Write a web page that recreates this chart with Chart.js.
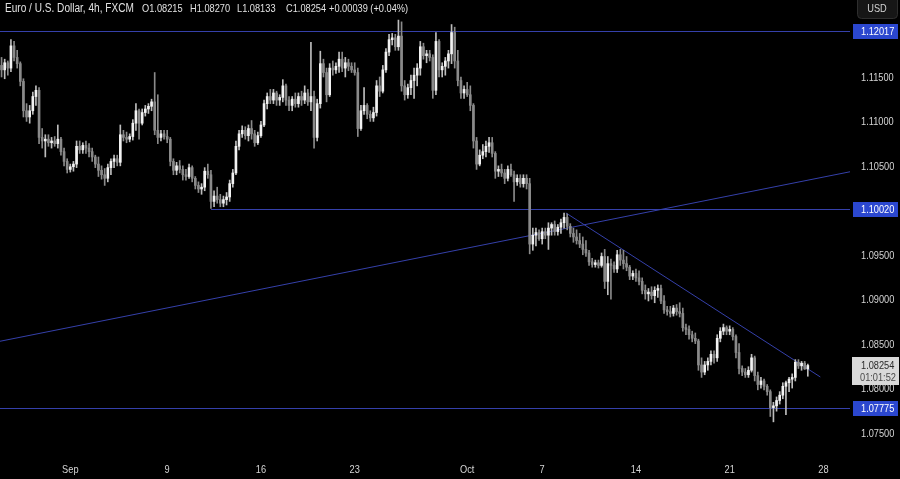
<!DOCTYPE html>
<html>
<head>
<meta charset="utf-8">
<script src="https://cdn.jsdelivr.net/npm/chart.js@4.4.1/dist/chart.umd.min.js"></script>
<style>html,body{margin:0;padding:0;background:#000;overflow:hidden}canvas{display:block}</style>
</head>
<body>
<canvas id="c" width="900" height="479"></canvas>
<script>
// ---- DATA (EUR/USD 4h, FXCM) ----
const opens = [
1.1163,1.1158,1.1166,1.1160,1.1185,1.1172,1.1165,1.1145,1.1112,1.1105,
1.1112,1.1128,1.1135,1.1082,1.1078,1.1080,1.1076,1.1078,1.1075,1.1080,
1.1066,1.1055,1.1046,1.1049,1.1052,1.1072,1.1068,1.1073,1.1070,1.1066,
1.1060,1.1052,1.1045,1.1040,1.1036,1.1048,1.1055,1.1058,1.1054,1.1085,
1.1082,1.1080,1.1083,1.1098,1.1112,1.1098,1.1110,1.1114,1.1117,1.1122,
1.1090,1.1082,1.1086,1.1083,1.1080,1.1055,1.1045,1.1050,1.1046,1.1040,
1.1038,1.1048,1.1036,1.1028,1.1024,1.1026,1.1044,1.1040,1.1010,1.1016,
1.1012,1.1008,1.1012,1.1015,1.1030,1.1042,1.1072,1.1086,1.1090,1.1084,
1.1092,1.1086,1.1076,1.1084,1.1096,1.1120,1.1128,1.1124,1.1132,1.1124,
1.1127,1.1140,1.1124,1.1118,1.1125,1.1120,1.1128,1.1124,1.1132,1.1122,
1.1128,1.1082,1.1120,1.1165,1.1155,1.1130,1.1160,1.1158,1.1162,1.1170,
1.1160,1.1166,1.1162,1.1158,1.1155,1.1092,1.1112,1.1118,1.1108,1.1104,
1.1110,1.1140,1.1134,1.1158,1.1178,1.1192,1.1194,1.1184,1.1196,1.1140,
1.1130,1.1138,1.1146,1.1152,1.1160,1.1184,1.1174,1.1176,1.1172,1.1135,
1.1190,1.1158,1.1162,1.1168,1.1176,1.1200,1.1168,1.1146,1.1132,1.1136,
1.1130,1.1118,1.1078,1.1052,1.1062,1.1066,1.1072,1.1076,1.1064,1.1044,
1.1046,1.1042,1.1036,1.1046,1.1040,1.1032,1.1036,1.1030,1.1036,1.1030,
1.0962,1.0972,1.0975,1.0968,1.0976,1.0972,1.0980,1.0984,1.0976,1.0981,
1.0986,1.0992,1.0982,1.0974,1.0970,1.0966,1.0962,1.0956,1.0952,1.0942,
1.0939,1.0941,1.0938,1.0948,1.0920,1.0940,1.0938,1.0934,1.0950,1.0944,
1.0940,1.0936,1.0926,1.0929,1.0924,1.0920,1.0910,1.0906,1.0908,1.0904,
1.0910,1.0912,1.0898,1.0888,1.0886,1.0884,1.0890,1.0886,1.0884,1.0868,
1.0866,1.0860,1.0856,1.0853,1.0826,1.0818,1.0826,1.0830,1.0838,1.0834,
1.0856,1.0864,1.0868,1.0864,1.0866,1.0858,1.0840,1.0822,1.0818,1.0815,
1.0820,1.0834,1.0814,1.0804,1.0808,1.0802,1.0796,1.0778,1.0780,1.0786,
1.0792,1.0802,1.0806,1.0810,1.0812,1.0829,1.0825,1.0828,1.08215];
const highs = [
1.1172,1.1170,1.1168,1.1192,1.1190,1.1180,1.1167,1.1148,1.1120,1.1118,
1.1133,1.1140,1.1138,1.1092,1.1085,1.1085,1.1082,1.1083,1.1096,1.1082,
1.1070,1.1058,1.1052,1.1055,1.1078,1.1078,1.1076,1.1078,1.1075,1.1070,
1.1062,1.1060,1.1050,1.1047,1.1052,1.1058,1.1062,1.1062,1.1096,1.1090,
1.1088,1.1086,1.1102,1.1120,1.1114,1.1114,1.1118,1.1120,1.1125,1.1155,
1.1130,1.1090,1.1090,1.1090,1.1082,1.1058,1.1054,1.1056,1.1050,1.1046,
1.1052,1.1050,1.1038,1.1032,1.1030,1.1048,1.1052,1.1045,1.1022,1.1026,
1.1018,1.1016,1.1020,1.1034,1.1046,1.1078,1.1090,1.1095,1.1094,1.1096,
1.1101,1.1090,1.1088,1.1100,1.1124,1.1132,1.1136,1.1136,1.1134,1.1130,
1.1147,1.1142,1.1128,1.1128,1.1132,1.1132,1.1134,1.1140,1.1136,1.1189,
1.1134,1.1125,1.1179,1.1170,1.1160,1.1165,1.1168,1.1166,1.1178,1.1178,
1.1172,1.1170,1.1166,1.1166,1.1160,1.1118,1.1138,1.1120,1.1112,1.1116,
1.1146,1.1150,1.1163,1.1182,1.1198,1.1199,1.1198,1.1214,1.1212,1.1146,
1.1142,1.1152,1.1160,1.1165,1.1190,1.1188,1.1180,1.1180,1.1175,1.1200,
1.1192,1.1166,1.1172,1.1180,1.1209,1.1206,1.1180,1.1150,1.1140,1.1144,
1.1140,1.1120,1.1082,1.1068,1.1074,1.1078,1.1082,1.1082,1.1066,1.1050,
1.1052,1.1046,1.1050,1.1052,1.1044,1.1040,1.1040,1.1040,1.1040,1.1036,
1.0980,1.0980,1.0978,1.0980,1.0980,1.0986,1.0986,1.0988,1.0984,1.0990,
1.0997,1.0996,1.0985,1.0980,1.0978,1.0974,1.0970,1.0966,1.0955,1.0946,
1.0944,1.0944,1.0952,1.0956,1.0948,1.0945,1.0942,1.0955,1.0956,1.0955,
1.0948,1.0938,1.0932,1.0934,1.0932,1.0924,1.0916,1.0912,1.0914,1.0914,
1.0916,1.0916,1.0904,1.0892,1.0892,1.0893,1.0894,1.0896,1.0890,1.0872,
1.0870,1.0864,1.0862,1.0855,1.0834,1.0830,1.0834,1.0842,1.0842,1.0860,
1.0868,1.0872,1.0870,1.0870,1.0868,1.0860,1.0850,1.0825,1.0822,1.0824,
1.0838,1.0836,1.0818,1.0812,1.0810,1.0804,1.0798,1.0784,1.0790,1.0796,
1.0806,1.0808,1.0812,1.0816,1.0832,1.0832,1.0830,1.0830,1.08270];
const lows = [
1.1150,1.1148,1.1152,1.1156,1.1168,1.1160,1.1140,1.1105,1.1100,1.1098,
1.1108,1.1118,1.1075,1.1070,1.1060,1.1072,1.1070,1.1072,1.1070,1.1062,
1.1050,1.1042,1.1043,1.1044,1.1048,1.1064,1.1064,1.1064,1.1060,1.1055,
1.1048,1.1038,1.1035,1.1028,1.1032,1.1040,1.1048,1.1050,1.1050,1.1078,
1.1076,1.1077,1.1079,1.1090,1.1080,1.1096,1.1106,1.1109,1.1112,1.1085,
1.1075,1.1078,1.1080,1.1076,1.1050,1.1040,1.1040,1.1042,1.1034,1.1034,
1.1036,1.1032,1.1024,1.1020,1.1018,1.1022,1.1036,1.1002,1.1004,1.1008,
1.1004,1.1004,1.1006,1.1010,1.1026,1.1040,1.1068,1.1082,1.1080,1.1078,
1.1080,1.1072,1.1074,1.1082,1.1094,1.1114,1.1120,1.1120,1.1118,1.1118,
1.1122,1.1118,1.1112,1.1112,1.1116,1.1116,1.1118,1.1120,1.1118,1.1112,
1.1070,1.1078,1.1115,1.1150,1.1122,1.1128,1.1152,1.1154,1.1155,1.1156,
1.1150,1.1157,1.1155,1.1152,1.1083,1.1090,1.1108,1.1103,1.1100,1.1100,
1.1106,1.1128,1.1132,1.1155,1.1174,1.1186,1.1180,1.1180,1.1134,1.1124,
1.1126,1.1130,1.1126,1.1140,1.1152,1.1170,1.1166,1.1168,1.1126,1.1130,
1.1150,1.1150,1.1152,1.1160,1.1165,1.1160,1.1140,1.1126,1.1126,1.1128,
1.1112,1.1070,1.1046,1.1050,1.1058,1.1060,1.1065,1.1060,1.1036,1.1038,
1.1038,1.1030,1.1033,1.1038,1.1010,1.1028,1.1026,1.1026,1.1024,1.0951,
1.0955,1.0960,1.0966,1.0962,1.0968,1.0956,1.0972,1.0972,1.0972,1.0974,
1.0980,1.0978,1.0970,1.0964,1.0962,1.0958,1.0950,1.0948,1.0938,1.0936,
1.0936,1.0935,1.0936,1.0912,1.0905,1.0900,1.0930,1.0930,1.0938,1.0934,
1.0932,1.0922,1.0922,1.0920,1.0916,1.0906,1.0900,1.0898,1.0900,1.0896,
1.0902,1.0895,1.0884,1.0882,1.0880,1.0881,1.0882,1.0880,1.0864,1.0860,
1.0855,1.0852,1.0850,1.0820,1.0812,1.0815,1.0820,1.0826,1.0828,1.0830,
1.0852,1.0860,1.0860,1.0860,1.0854,1.0834,1.0816,1.0814,1.0812,1.0812,
1.0818,1.0808,1.0798,1.0800,1.0798,1.0792,1.0768,1.0762,1.0774,1.0782,
1.0788,1.0770,1.0796,1.0800,1.0808,1.0822,1.0820,1.0821,1.08133];
const closes = [
1.1158,1.1166,1.1160,1.1185,1.1172,1.1165,1.1145,1.1112,1.1105,1.1112,
1.1128,1.1135,1.1082,1.1078,1.1080,1.1076,1.1078,1.1075,1.1080,1.1066,
1.1055,1.1046,1.1049,1.1052,1.1072,1.1068,1.1073,1.1070,1.1066,1.1060,
1.1052,1.1045,1.1040,1.1036,1.1048,1.1055,1.1058,1.1054,1.1085,1.1082,
1.1080,1.1083,1.1098,1.1112,1.1098,1.1110,1.1114,1.1117,1.1122,1.1090,
1.1082,1.1086,1.1083,1.1080,1.1055,1.1045,1.1050,1.1046,1.1040,1.1038,
1.1048,1.1036,1.1028,1.1024,1.1026,1.1044,1.1040,1.1010,1.1016,1.1012,
1.1008,1.1012,1.1015,1.1030,1.1042,1.1072,1.1086,1.1090,1.1084,1.1092,
1.1086,1.1076,1.1084,1.1096,1.1120,1.1128,1.1124,1.1132,1.1124,1.1127,
1.1140,1.1124,1.1118,1.1125,1.1120,1.1128,1.1124,1.1132,1.1122,1.1128,
1.1082,1.1120,1.1165,1.1155,1.1130,1.1160,1.1158,1.1162,1.1170,1.1160,
1.1166,1.1162,1.1158,1.1155,1.1092,1.1112,1.1118,1.1108,1.1104,1.1110,
1.1140,1.1134,1.1158,1.1178,1.1192,1.1194,1.1184,1.1196,1.1140,1.1130,
1.1138,1.1146,1.1152,1.1160,1.1184,1.1174,1.1176,1.1172,1.1135,1.1190,
1.1158,1.1162,1.1168,1.1176,1.1200,1.1168,1.1146,1.1132,1.1136,1.1130,
1.1118,1.1078,1.1052,1.1062,1.1066,1.1072,1.1076,1.1064,1.1044,1.1046,
1.1042,1.1036,1.1046,1.1040,1.1032,1.1036,1.1030,1.1036,1.1030,1.0962,
1.0972,1.0975,1.0968,1.0976,1.0972,1.0980,1.0984,1.0976,1.0981,1.0986,
1.0992,1.0982,1.0974,1.0970,1.0966,1.0962,1.0956,1.0952,1.0942,1.0939,
1.0941,1.0938,1.0948,1.0920,1.0940,1.0938,1.0934,1.0950,1.0944,1.0940,
1.0936,1.0926,1.0929,1.0924,1.0920,1.0910,1.0906,1.0908,1.0904,1.0910,
1.0912,1.0898,1.0888,1.0886,1.0884,1.0890,1.0886,1.0884,1.0868,1.0866,
1.0860,1.0856,1.0853,1.0826,1.0818,1.0826,1.0830,1.0838,1.0834,1.0856,
1.0864,1.0868,1.0864,1.0866,1.0858,1.0840,1.0822,1.0818,1.0815,1.0820,
1.0834,1.0814,1.0804,1.0808,1.0802,1.0796,1.0778,1.0780,1.0786,1.0792,
1.0802,1.0806,1.0810,1.0812,1.0829,1.0825,1.0828,1.08215,1.08254];

// time axis: first 4h bar and total number of slots (incl. empty future bars)
const firstBarTime = '2024-08-27T05:00:00Z';
const slotCount = 272;
const xTickDates = ['2024-09-01','2024-09-09','2024-09-16','2024-09-23','2024-10-01','2024-10-07','2024-10-14','2024-10-21','2024-10-28'];
const xTickText  = ['Sep','9','16','23','Oct','7','14','21','28'];

// price axis
const yTicks = [1.075,1.080,1.085,1.090,1.095,1.100,1.105,1.110,1.115];
const yMin = 1.07292, yMax = 1.12366;

// drawn levels / trendlines (bar index, price)
const levelPrices = [1.12017, 1.10020, 1.07775];
const levelFromBar = [null, 67, null];
const risingLine = [[0, 1.0853], [271, 1.1043]];
const fallingLine = [[180.6, 1.0997], [262, 1.08125]];

const symbolTitle = 'Euro / U.S. Dollar, 4h, FXCM';
const countdown = '01:01:52';
const currency = 'USD';

// ---- RENDER ----
const FONT = '"Liberation Sans", Arial, sans-serif';
const NARROW = 0.84;
const UP = '#f2f2f2', DOWN = '#8a8a8a';
const LINE = '#3540aa', TAG = '#2b47cf', TXT = '#d4d4d4';

const times = [];
let t = Date.parse(firstBarTime);
while (times.length < slotCount) {
  times.push(t);
  t += 4 * 3600e3;
  const d = new Date(t);
  if (d.getUTCDay() === 5 && d.getUTCHours() === 21) t += 48 * 3600e3;
}
const dayStr = ms => new Date(ms).toISOString().slice(0, 10);
const tickMap = {};
xTickDates.forEach((ds, k) => {
  const idx = times.findIndex(ms => dayStr(ms) === ds);
  if (idx >= 0) tickMap[idx] = xTickText[k];
});
const labels = times.map(ms => new Date(ms).toISOString());
const isUp = i => closes[i] >= opens[i];

function narrowText(c, s, x, y, size, color, align) {
  c.save();
  c.font = size + 'px ' + FONT;
  c.fillStyle = color;
  c.textAlign = align || 'left';
  c.textBaseline = 'middle';
  c.translate(x, y);
  c.scale(NARROW, 1);
  c.fillText(s, 0, 0);
  c.restore();
}

const overlay = {
  id: 'overlay',
  beforeDraw(chart) {
    const c = chart.ctx;
    c.save(); c.fillStyle = '#000'; c.fillRect(0, 0, chart.width, chart.height); c.restore();
  },
  beforeDatasetsDraw(chart) {
    const { ctx: c, chartArea: a, scales: { x, y } } = chart;
    c.save();
    c.beginPath(); c.rect(a.left, a.top, a.right - a.left, a.bottom - a.top); c.clip();
    c.strokeStyle = LINE; c.lineWidth = 1;
    levelPrices.forEach((p, k) => {
      const py = Math.round(y.getPixelForValue(p)) + 0.5;
      const px = levelFromBar[k] === null ? a.left : x.getPixelForValue(levelFromBar[k]);
      c.beginPath(); c.moveTo(px, py); c.lineTo(a.right, py); c.stroke();
    });
    const r0x = x.getPixelForValue(risingLine[0][0]), r0y = y.getPixelForValue(risingLine[0][1]);
    const r1x = x.getPixelForValue(risingLine[1][0]), r1y = y.getPixelForValue(risingLine[1][1]);
    const m = (r1y - r0y) / (r1x - r0x);
    c.beginPath(); c.moveTo(a.left, r0y + m * (a.left - r0x)); c.lineTo(a.right, r0y + m * (a.right - r0x)); c.stroke();
    c.beginPath();
    c.moveTo(x.getPixelForValue(fallingLine[0][0]), y.getPixelForValue(fallingLine[0][1]));
    c.lineTo(x.getPixelForValue(fallingLine[1][0]), y.getPixelForValue(fallingLine[1][1]));
    c.stroke();
    c.restore();
  },
  afterDraw(chart) {
    const { ctx: c, chartArea: a, scales: { x, y } } = chart;
    Object.keys(tickMap).forEach(k => {
      narrowText(c, tickMap[k], x.getPixelForValue(+k), 470, 11, TXT, 'center');
    });
    y.ticks.forEach(tk => {
      narrowText(c, tk.value.toFixed(5), a.right + 11, Math.round(y.getPixelForValue(tk.value)) + 0.5, 11, TXT, 'left');
    });
    levelPrices.forEach(p => {
      const py = Math.round(y.getPixelForValue(p));
      c.fillStyle = TAG; c.fillRect(a.right + 3, py - 7, 45, 15);
      narrowText(c, p.toFixed(5), a.right + 11, py + 0.5, 11, '#ffffff', 'left');
    });
    const last = closes.length - 1;
    const ly = Math.round(y.getPixelForValue(closes[last]));
    c.fillStyle = '#d9d9d9'; c.fillRect(a.right + 2, ly - 8, 47, 28);
    narrowText(c, closes[last].toFixed(5), a.right + 11, ly + 0.5, 11, '#2a2a2a', 'left');
    narrowText(c, countdown, a.right + 10, ly + 13, 11, '#4a4a4a', 'left');
    c.save();
    c.fillStyle = '#161616'; c.strokeStyle = '#2e2e2e';
    c.beginPath(); c.roundRect(a.right + 7.5, -4.5, 40, 23, 4); c.fill(); c.stroke();
    c.restore();
    narrowText(c, currency, a.right + 27, 9, 11, TXT, 'center');
    const o = opens[last], h = highs[last], l = lows[last], cl = closes[last];
    const chg = cl - closes[last - 1];
    const pct = chg / closes[last - 1] * 100;
    narrowText(c, symbolTitle, 5, 9, 12, '#e2e2e2', 'left');
    const parts = [
      ['O' + o.toFixed(5), 142], ['H' + h.toFixed(5), 190],
      ['L' + l.toFixed(5), 237], ['C' + cl.toFixed(5), 286],
      [(chg >= 0 ? '+' : '') + chg.toFixed(5) + ' (' + (pct >= 0 ? '+' : '') + pct.toFixed(2) + '%)', 329]
    ];
    parts.forEach(([s, px]) => narrowText(c, s, px, 9, 11, '#e2e2e2', 'left'));
  }
};

new Chart(document.getElementById('c'), {
  type: 'bar',
  data: {
    labels,
    datasets: [
      {
        data: opens.map((v, i) => [v, closes[i]]),
        backgroundColor: ctx => isUp(ctx.dataIndex) ? UP : DOWN,
        barThickness: 2, grouped: false, minBarLength: 1, order: 0
      },
      {
        data: lows.map((v, i) => [v, highs[i]]),
        backgroundColor: ctx => isUp(ctx.dataIndex) ? '#bdbdbd' : DOWN,
        barThickness: 1, grouped: false, order: 1
      }
    ]
  },
  options: {
    responsive: false, animation: false, devicePixelRatio: 1,
    layout: { padding: 0, autoPadding: false },
    plugins: { legend: { display: false }, tooltip: { enabled: false } },
    scales: {
      x: {
        grid: { display: false, drawTicks: false }, border: { display: false },
        afterFit: s => { s.height = 28; },
        ticks: { display: false, autoSkip: false, maxRotation: 0 }
      },
      y: {
        position: 'right', min: yMin, max: yMax,
        grid: { display: false, drawTicks: false }, border: { display: false },
        afterFit: s => { s.width = 50; },
        afterBuildTicks: s => { s.ticks = yTicks.map(v => ({ value: v })); },
        ticks: { display: false }
      }
    }
  },
  plugins: [overlay]
});
</script>
</body>
</html>
